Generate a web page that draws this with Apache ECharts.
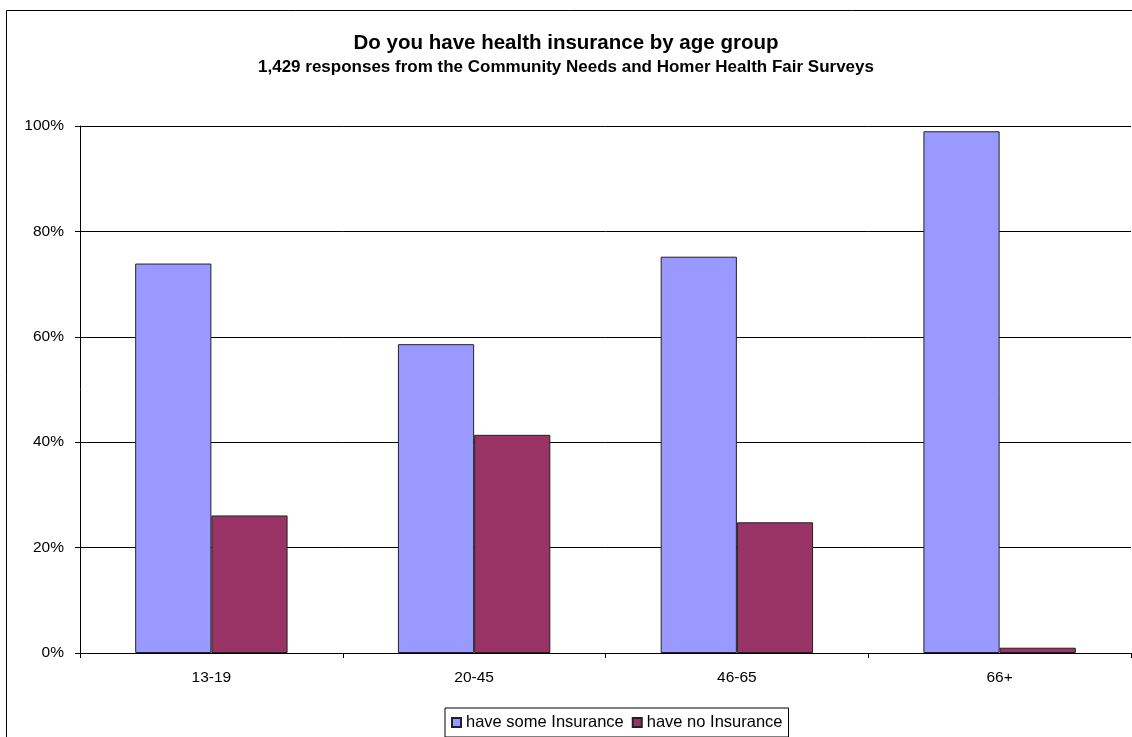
<!DOCTYPE html>
<html>
<head>
<meta charset="utf-8">
<script src="https://cdn.jsdelivr.net/npm/echarts@6/dist/echarts.min.js"></script>
<style>
  html, body { margin: 0; padding: 0; background: #fff; }
  #chart { width: 1132px; height: 737px; }
</style>
</head>
<body>
<div id="chart"></div>
<script>
// Age groups and share of respondents (percent) with / without health insurance
const ageGroups = ['13-19', '20-45', '46-65', '66+'];
const someInsurance = [73.9, 58.6, 75.2, 99.0];
const noInsurance = [26.1, 41.4, 24.8, 1.0];
const seriesNames = ['have some Insurance', 'have no Insurance'];
const yTicks = [0, 20, 40, 60, 80, 100];

const FONT = '"Liberation Sans", Arial, sans-serif';
const chart = echarts.init(document.getElementById('chart'));

chart.setOption({
  animation: false,
  backgroundColor: '#fff',
  textStyle: { fontFamily: FONT },
  title: {
    text: 'Do you have health insurance by age group',
    subtext: '1,429 responses from the Community Needs and Homer Health Fair Surveys',
    left: 'center',
    top: 26,
    itemGap: 3,
    textStyle: { fontFamily: FONT, fontSize: 20.5, fontWeight: 'bold', color: '#000', lineHeight: 24 },
    subtextStyle: { fontFamily: FONT, fontSize: 17, fontWeight: 'bold', color: '#000', lineHeight: 18 }
  },
  graphic: [{
    type: 'rect',
    shape: { x: 6.5, y: 10.5, width: 1140, height: 740 },
    style: { fill: 'none', stroke: '#000', lineWidth: 1 },
    silent: true
  }],
  grid: { left: 80, right: 1, top: 126, bottom: 84 },
  legend: {
    data: seriesNames,
    left: 445,
    top: 708,
    padding: [6, 6, 6, 6],
    itemGap: 8,
    itemWidth: 9,
    itemHeight: 9,
    icon: 'rect',
    borderColor: '#000',
    borderWidth: 1,
    textStyle: { fontFamily: FONT, fontSize: 16.5, color: '#000', padding: [0, 0, 0, 0] }
  },
  xAxis: {
    type: 'category',
    data: ageGroups,
    axisLine: { lineStyle: { color: '#000', width: 1 } },
    axisTick: { show: true, length: 5, lineStyle: { color: '#000' } },
    axisLabel: { fontFamily: FONT, fontSize: 15.5, color: '#000', margin: 17 }
  },
  yAxis: {
    type: 'value',
    min: 0,
    max: 100,
    interval: 20,
    axisLine: { show: true, lineStyle: { color: '#000', width: 1 } },
    axisTick: { show: true, length: 5, lineStyle: { color: '#000' } },
    axisLabel: {
      fontFamily: FONT, fontSize: 15.5, color: '#000', margin: 16,
      verticalAlign: 'middle', padding: [5, 0, 0, 0],
      formatter: v => yTicks.includes(v) ? v + '%' : ''
    },
    splitLine: { show: true, lineStyle: { color: '#000', width: 1 } }
  },
  series: [
    {
      name: seriesNames[0],
      type: 'bar',
      data: someInsurance,
      barGap: '0%',
      barCategoryGap: '42%',
      itemStyle: { color: '#9999FF', borderColor: '#222', borderWidth: 1 }
    },
    {
      name: seriesNames[1],
      type: 'bar',
      data: noInsurance,
      itemStyle: { color: '#993366', borderColor: '#222', borderWidth: 1 }
    }
  ]
});
</script>
</body>
</html>
